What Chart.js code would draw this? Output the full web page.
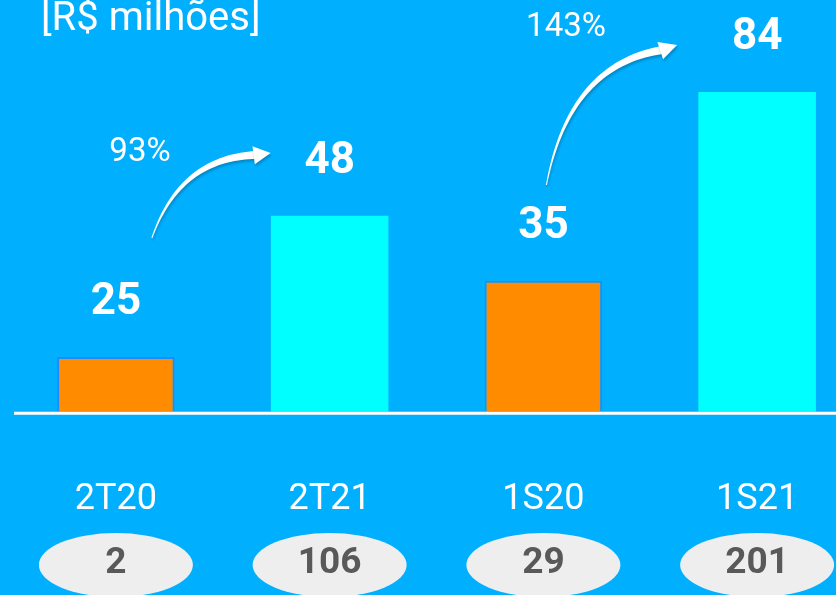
<!doctype html>
<html lang="pt">
<head>
<meta charset="utf-8">
<title>Receita</title>
<script src="https://cdn.jsdelivr.net/npm/chart.js"></script>
<style>
  html, body { margin: 0; padding: 0; background: #00b0ff; overflow: hidden; }
  #wrap { width: 870px; height: 595px; position: relative; }
</style>
</head>
<body>
<div id="wrap"><canvas id="chart"></canvas></div>
<script>
// data
const periods = ['2T20', '2T21', '1S20', '1S21'];
const barHeights = [14.4, 51.5, 34.4, 84];      // drawn bar heights
const valueLabels = ['25', '48', '35', '84'];    // labels printed above the bars
const ovalValues = ['2', '106', '29', '201'];    // numbers in the grey ovals
const growthLabels = ['93%', '143%'];
const barColors = ['#ff8c00', '#00ffff', '#ff8c00', '#00ffff'];
const barBorders = ['#1a8cff', '#00ffff', '#1a8cff', '#00ffff'];

function drawArrow(ctx, p0, c, p1, tip) {
  ctx.save();
  ctx.shadowColor = 'rgba(0,0,0,0.25)';
  ctx.shadowBlur = 3;
  ctx.shadowOffsetX = 1;
  ctx.shadowOffsetY = 2;
  ctx.fillStyle = '#ffffff';
  const left = [], right = [];
  const n = 40;
  for (let i = 0; i <= n; i++) {
    const t = i / n;
    const x = (1 - t) * (1 - t) * p0[0] + 2 * (1 - t) * t * c[0] + t * t * p1[0];
    const y = (1 - t) * (1 - t) * p0[1] + 2 * (1 - t) * t * c[1] + t * t * p1[1];
    const dx = 2 * (1 - t) * (c[0] - p0[0]) + 2 * t * (p1[0] - c[0]);
    const dy = 2 * (1 - t) * (c[1] - p0[1]) + 2 * t * (p1[1] - c[1]);
    const len = Math.hypot(dx, dy);
    const w = (1 + 7 * t) / 2;
    left.push([x - dy / len * w, y + dx / len * w]);
    right.push([x + dy / len * w, y - dx / len * w]);
  }
  ctx.beginPath();
  ctx.moveTo(left[0][0], left[0][1]);
  left.forEach(p => ctx.lineTo(p[0], p[1]));
  right.reverse().forEach(p => ctx.lineTo(p[0], p[1]));
  ctx.closePath();
  ctx.fill();
  // head
  const ang = Math.atan2(tip[1] - p1[1], tip[0] - p1[0]);
  const hb = 9;
  ctx.beginPath();
  ctx.moveTo(tip[0], tip[1]);
  ctx.lineTo(p1[0] - 2 * Math.cos(ang) - Math.sin(ang) * hb, p1[1] - 2 * Math.sin(ang) + Math.cos(ang) * hb);
  ctx.lineTo(p1[0] - 2 * Math.cos(ang) + Math.sin(ang) * hb, p1[1] - 2 * Math.sin(ang) - Math.cos(ang) * hb);
  ctx.closePath();
  ctx.fill();
  ctx.restore();
}

const extras = {
  id: 'extras',
  afterDatasetsDraw(chart) {
    const ctx = chart.ctx;
    const xs = chart.scales.x, ys = chart.scales.y;
    const y0 = ys.getPixelForValue(0);

    // baseline
    ctx.save();
    ctx.strokeStyle = '#ffffff';
    ctx.lineWidth = 3;
    ctx.beginPath();
    ctx.moveTo(14, y0 + 1.5);
    ctx.lineTo(chart.width, y0 + 1.5);
    ctx.stroke();

    // unit title
    ctx.fillStyle = '#ffffff';
    ctx.font = '40px Roboto';
    ctx.textAlign = 'left';
    ctx.textBaseline = 'alphabetic';
    ctx.fillText('[R$ milhões]', 41, 30);

    // value labels above bars
    ctx.font = 'bold 44px Roboto';
    ctx.textAlign = 'center';
    ctx.textBaseline = 'middle';
    const meta = chart.getDatasetMeta(0);
    meta.data.forEach((bar, i) => {
      ctx.fillText(valueLabels[i], bar.x, bar.y - 54);
    });

    // ovals
    periods.forEach((p, i) => {
      const cx = xs.getPixelForValue(i);
      ctx.fillStyle = '#eeeeee';
      ctx.beginPath();
      ctx.ellipse(cx, 565, 77, 32, 0, 0, Math.PI * 2);
      ctx.fill();
      ctx.fillStyle = '#595959';
      ctx.font = 'bold 37px Roboto';
      ctx.fillText(ovalValues[i], cx, 564);
    });

    // growth arrows
    const b = meta.data;
    drawArrow(ctx, [b[0].x + 36, 238], [b[0].x + 64, 158], [b[1].x - 74, 155], [b[1].x - 59, 153]);
    drawArrow(ctx, [b[2].x + 3, 185], [b[2].x + 26, 65], [b[3].x - 95, 50], [b[3].x - 80, 45]);
    ctx.fillStyle = '#ffffff';
    ctx.font = '33px Roboto';
    ctx.fillText(growthLabels[0], 140, 153);
    ctx.fillText(growthLabels[1], 566, 28);
    ctx.restore();
  }
};

new Chart(document.getElementById('chart'), {
  type: 'bar',
  data: {
    labels: periods,
    datasets: [{
      data: barHeights,
      backgroundColor: barColors,
      borderColor: barBorders,
      borderWidth: [2, 0, 2, 0],
      barPercentage: 0.55,
      categoryPercentage: 1
    }]
  },
  options: {
    responsive: true,
    maintainAspectRatio: false,
    animation: false,
    layout: { padding: { left: 9, right: 6, top: 31, bottom: 6 } },
    plugins: { legend: { display: false }, tooltip: { enabled: false } },
    scales: {
      x: {
        offset: true,
        grid: { display: false, drawTicks: false },
        border: { display: false },
        ticks: { color: '#ffffff', font: { family: 'Roboto', size: 36 }, padding: 67, maxRotation: 0 }
      },
      y: { display: false, min: 0, max: 100 }
    }
  },
  plugins: [extras]
});
</script>
</body>
</html>
